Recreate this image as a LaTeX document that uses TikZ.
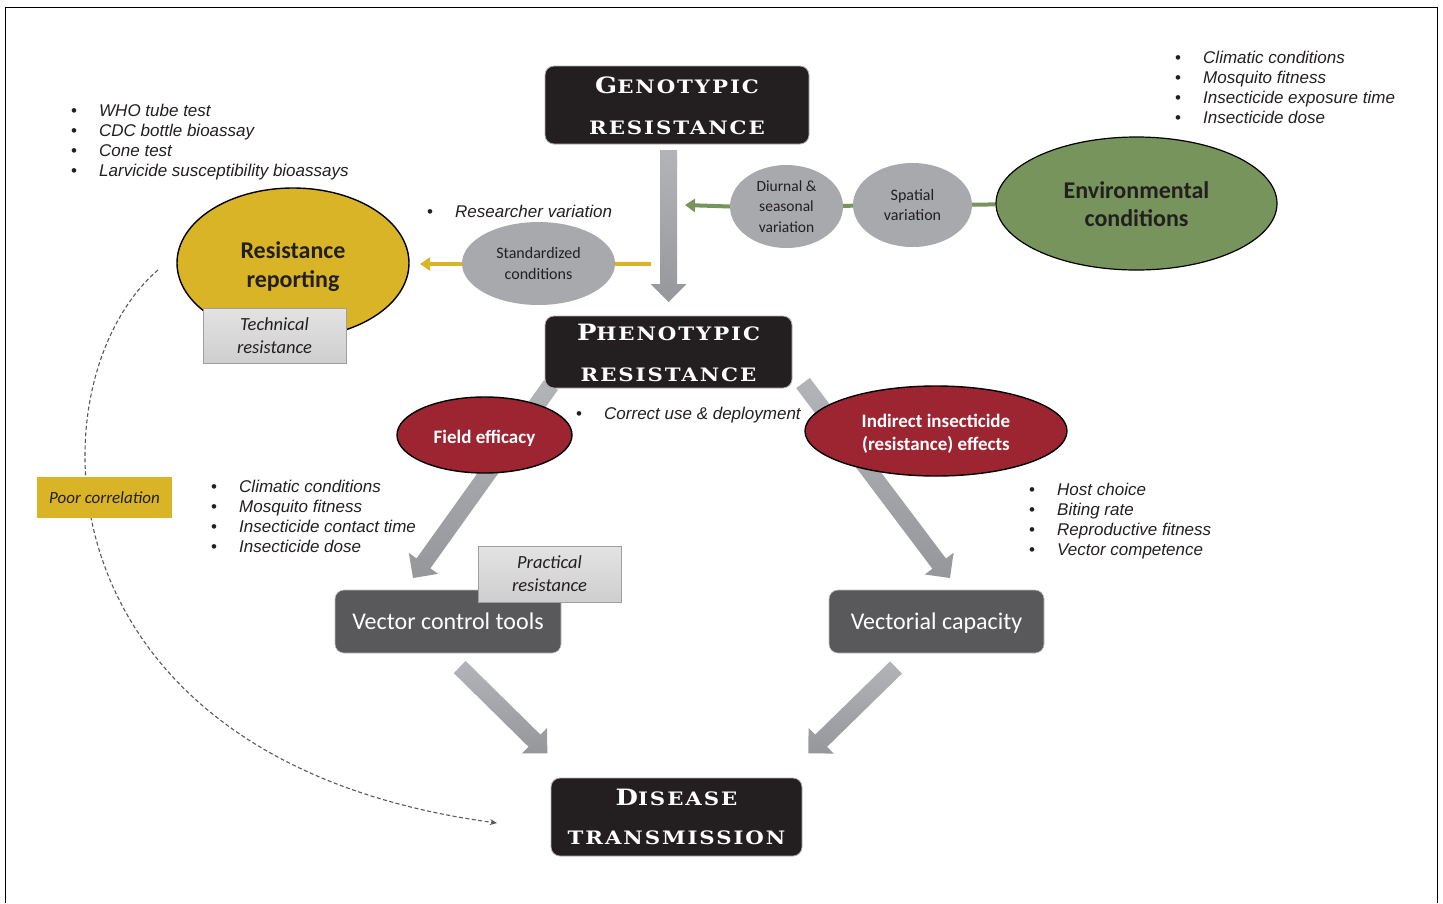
\documentclass[tikz,border=0pt]{standalone}
\usepackage{fontspec}
\usepackage{graphicx}
\setmainfont{Carlito}
\newfontfamily\arialf{Liberation Sans}
\newfontfamily\cop[LetterSpace=9]{DejaVu Serif}
\usetikzlibrary{arrows.meta,backgrounds,calc,shapes.geometric}
\definecolor{dk}{HTML}{231F20}
\definecolor{vgrey}{HTML}{59595C}
\definecolor{egrey}{HTML}{A7A9AC}
\definecolor{gold}{HTML}{D9B427}
\definecolor{dred}{HTML}{9D2532}
\definecolor{olive}{HTML}{77945C}
\definecolor{agA}{HTML}{B3B4B7}
\definecolor{agB}{HTML}{96979A}
\definecolor{txt}{HTML}{231F20}
\definecolor{dash}{HTML}{58595B}
\newcommand\bl[1]{\makebox[28pt][l]{\upshape\textbullet}#1}
\newcommand\capl[2]{\scalebox{1.15}[1]{\cop\bfseries{\fontsize{22.5}{23}\selectfont #1}{\fontsize{18.5}{19}\selectfont #2}}}
\newcommand\dn[2]{\raisebox{-#1pt}[\height][\depth]{#2}}
\newcommand\barrow[2]{%
 \coordinate (#2-h) at ($(#2)!18pt!(#1)$);
 \shade[top color=agA, bottom color=agB]
  ($(#1)!8.5pt!90:(#2)$) -- ($(#2-h)!8.5pt!90:(#2)$) -- ($(#2-h)!18pt!90:(#2)$) -- (#2)
  -- ($(#2-h)!18pt!-90:(#2)$) -- ($(#2-h)!8.5pt!-90:(#2)$) -- ($(#1)!8.5pt!-90:(#2)$) -- cycle;}
\begin{document}
\begin{tikzpicture}[x=1pt,y=-1pt,
  darkbox/.style={rectangle, rounded corners=9pt, fill=dk, draw=gray!60, line width=0.8pt, text=white, align=center, inner sep=0pt, font=\fontsize{19}{43}\selectfont},
  greybox/.style={rectangle, rounded corners=9pt, fill=vgrey, draw=gray!50, line width=0.6pt, text=white, inner sep=0pt, font=\fontsize{24}{28}\selectfont},
  lightbox/.style={rectangle, top color=gray!22, bottom color=gray!38, draw=gray!75, line width=0.8pt, text=txt, align=center, inner sep=0pt, font=\itshape\fontsize{18.5}{23}\selectfont},
  ell/.style={ellipse, inner sep=0pt, align=center, text=txt},
  gell/.style={ell, fill=egrey, font=\fontsize{16}{20.5}\selectfont},
  rell/.style={ell, fill=dred, draw=black, line width=1.4pt, text=white, font=\bfseries\fontsize{19}{23}\selectfont},
  blist/.style={anchor=north west, inner sep=0pt, align=left, text=txt, font=\arialf\itshape\fontsize{17}{20.3}\selectfont},
  gline/.style={draw=olive, line width=4pt},
  yline/.style={draw=gold, line width=4pt}
]
\useasboundingbox (0,0) rectangle (1443,903);
\draw[line width=1pt] (5.5,903) -- (5.5,7.5) -- (1437.5,7.5) -- (1437.5,903);

% main boxes
\node[darkbox, minimum width=264pt, minimum height=78pt] (geno) at (677,105) {\dn{2}{\capl{G}{ENOTYPIC}}\\\capl{}{RESISTANCE}};
\node[darkbox, minimum width=247pt, minimum height=72pt] (pheno) at (668.5,352) {\dn{2}{\capl{P}{HENOTYPIC}}\\\capl{}{RESISTANCE}};
\node[darkbox, minimum width=251pt, minimum height=78pt, font=\fontsize{19}{39}\selectfont] (dis) at (676.5,817) {\capl{D}{ISEASE}\\\capl{}{TRANSMISSION}};

% ellipses
\node[ell, fill=gold, draw=black, line width=1.4pt, minimum width=232pt, minimum height=150pt, font=\bfseries\fontsize{24}{29}\selectfont] (rep) at (293,263) {\dn{4}{Resistance}\\\dn{4}{reporting}};
\node[lightbox, minimum width=143pt, minimum height=55pt] (tech) at (274.5,335.5) {Technical\\resistance};
\node[gell, minimum width=153pt, minimum height=83pt] (std) at (538.5,263.5) {Standardized\\conditions};
\node[gell, minimum width=113pt, minimum height=83pt, font=\fontsize{15.5}{20.5}\selectfont] (diu) at (786.5,206.5) {Diurnal \&\\seasonal\\variation};
\node[gell, minimum width=119pt, minimum height=84pt] (spa) at (912.5,205) {Spatial\\variation};
\node[ell, fill=olive, draw=black, line width=1.2pt, minimum width=281pt, minimum height=133pt, font=\bfseries\fontsize{24}{28}\selectfont] (env) at (1136.5,203.5) {\dn{1}{Environmental}\\\dn{1}{conditions}};
\node[rell, minimum width=175pt, minimum height=76pt] (fe) at (484.5,435) {\dn{3}{Field efficacy}};
\node[rell, minimum width=262pt, minimum height=90pt] (ind) at (936,431) {\dn{3}{Indirect insecticide}\\\dn{3}{(resistance) effects}};

% grey boxes
\node[greybox, minimum width=226pt, minimum height=63pt] (vct) at (448,621.5) {Vector control tools};
\node[lightbox, minimum width=143pt, minimum height=56pt] (prac) at (549.5,574) {Practical\\resistance};
\node[greybox, minimum width=215pt, minimum height=63pt] (vc) at (936.5,621.5) {\dn{2}{Vectorial capacity}};
\node[rectangle, fill=gold, minimum width=135pt, minimum height=41pt, inner sep=0pt, text=txt, font=\itshape\fontsize{17}{20}\selectfont] (poor) at (104.5,497.5) {Poor correlation};

% bullet lists
\node[blist] (l1) at (71,103.5) {\bl{WHO tube test}\\\bl{CDC bottle bioassay}\\\bl{Cone test}\\\bl{Larvicide susceptibility bioassays}};
\node[blist] (l2) at (1175,50.5) {\bl{Climatic conditions}\\\bl{Mosquito fitness}\\\bl{Insecticide exposure time}\\\bl{Insecticide dose}};
\node[blist] (l3) at (427,204.5) {\bl{Researcher variation}};
\node[blist] (l4) at (576,406.5) {\bl{Correct use \& deployment}};
\node[blist] (l5) at (211,479.5) {\bl{Climatic conditions}\\\bl{Mosquito fitness}\\\bl{Insecticide contact time}\\\bl{Insecticide dose}};
\node[blist] (l6) at (1029,482.5) {\bl{Host choice}\\\bl{Biting rate}\\\bl{Reproductive fitness}\\\bl{Vector competence}};

\begin{scope}[on background layer]
  \coordinate (a1s) at (pheno.north |- 0,150);
  \coordinate (a1e) at (pheno.north |- 0,302);
  \coordinate (a2s) at (551,385);
  \coordinate (a2e) at (413,578);
  \coordinate (a3s) at (803,383);
  \coordinate (a3e) at (950,578);
  \coordinate (a4s) at (459.7,667);
  \coordinate (a4e) at (547.3,753.3);
  \coordinate (a5s) at (896,667.5);
  \coordinate (a5e) at (808.3,753.3);
  \barrow{a1s}{a1e}
  \barrow{a2s}{a2e}
  \barrow{a3s}{a3e}
  \barrow{a4s}{a4e}
  \barrow{a5s}{a5e}
  % green
  \coordinate (gtip) at (685,205);
  \draw[gline] (env) -- (spa);
  \draw[gline] (spa) -- (diu);
  \draw[gline, -{Triangle[width=13pt,length=10pt]}] (diu.west) -- (gtip);
  % yellow
  \coordinate (ystart) at (651,264);
  \coordinate (ytip) at (420,264);
  \draw[yline] (ystart) -- (std);
  \draw[yline, -{Triangle[width=13pt,length=10pt]}] (std.west |- ytip) -- (ytip);
  % dashed
  \coordinate (ds) at (158,270);
  \coordinate (de) at (497,823);
  \draw[draw=dash, line width=1.1pt, dash pattern=on 4pt off 2.5pt, -{Stealth[length=7pt,width=6pt]}] (ds) .. controls (30,380) and (30,760) .. (de);
\end{scope}
\end{tikzpicture}
\end{document}
